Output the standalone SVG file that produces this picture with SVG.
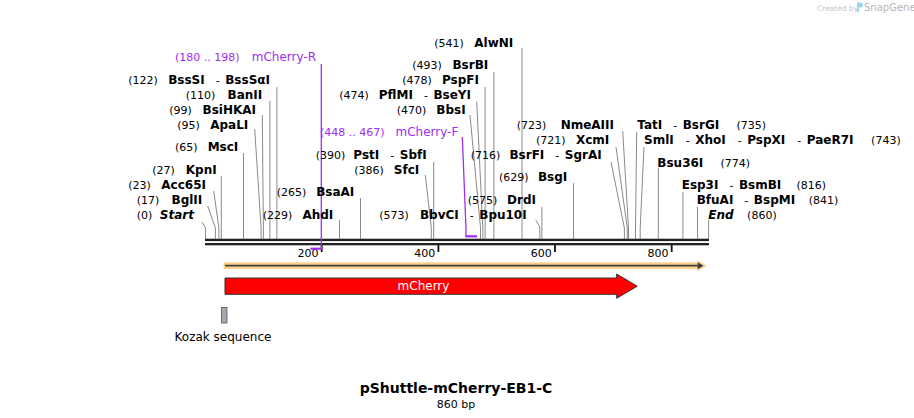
<svg xmlns="http://www.w3.org/2000/svg" width="914" height="418" viewBox="0 0 914 418">
<style>
text{font-family:"DejaVu Sans","Liberation Sans",sans-serif;fill:#000}
.n{font-size:11px}
.b{font-size:12px;font-weight:bold}
.h{font-size:11px;font-weight:normal}
.bi{font-size:12px;font-weight:bold;font-style:italic}
.p{font-size:12px;fill:#a22cf0}
.pn{font-size:11px;fill:#a22cf0}
.cut{fill:none;stroke:#8a8a8a;stroke-width:1}
.pr{fill:none;stroke:#a22cf0;stroke-width:1.3}
.prb{stroke:#a22cf0;stroke-width:2.2}
.tick{stroke:#111;stroke-width:1.8}
</style>
<rect width="914" height="418" fill="#fff"/>

<g id="watermark">
<text x="817" y="10.5" style="font-size:7.5px;fill:#c4c4c4">Created by</text>
<path d="M857,2.5 h3.5 a2.5,2.5 0 0 1 0,5 h-1.5 v4.5 h-2 z" fill="#9ad6f2"/>
<text x="864" y="11" style="font-size:10px;fill:#b5b5b5">SnapGene</text>
</g>

<g id="connectors">
<polyline class="cut" points="202,222 205.5,228 205.5,238.7"/>
<polyline class="cut" points="207.7,206 215.4,228 215.4,238.7"/>
<polyline class="cut" points="213.7,191 218.9,228 218.9,238.7"/>
<polyline class="cut" points="221.3,176 221.3,238.7"/>
<polyline class="cut" points="243.5,153 243.5,238.7"/>
<polyline class="cut" points="254.7,129 261.1,228 261.1,238.7"/>
<polyline class="cut" points="262.3,115 263.4,228 263.4,238.7"/>
<polyline class="cut" points="269.9,101 269.9,238.7"/>
<polyline class="cut" points="276.9,87 276.9,238.7"/>
<polyline class="cut" points="339.5,220 339.5,238.7"/>
<polyline class="cut" points="360.5,198 360.5,238.7"/>
<polyline class="cut" points="433.7,162 433.7,238.7"/>
<polyline class="cut" points="425.3,175 431.3,228 431.3,238.7"/>
<polyline class="cut" points="470,115 480.5,228 480.5,238.7"/>
<polyline class="cut" points="476.7,101.7 482.8,228 482.8,238.7"/>
<polyline class="cut" points="485.1,87 485.1,238.7"/>
<polyline class="cut" points="493.9,72 493.9,238.7"/>
<polyline class="cut" points="522,48 522,238.7"/>
<polyline class="cut" points="535.7,220 539.8,227 539.8,238.7"/>
<polyline class="cut" points="541.9,207 541.9,238.7"/>
<polyline class="cut" points="573.5,183 573.5,238.7"/>
<polyline class="cut" points="611,162 624.4,228 624.4,238.7"/>
<polyline class="cut" points="616,147 627.3,228 627.3,238.7"/>
<polyline class="cut" points="622.7,131 628.5,228 628.5,238.7"/>
<polyline class="cut" points="636.7,132 635.5,228 635.5,238.7"/>
<polyline class="cut" points="644,147 640.2,228 640.2,238.7"/>
<polyline class="cut" points="658.3,168 658.3,238.7"/>
<polyline class="cut" points="682.9,192 682.9,238.7"/>
<polyline class="cut" points="697.5,207 697.5,238.7"/>
<polyline class="cut" points="708.6,220 708.6,238.7"/>
</g>

<g id="backbone">
<rect x="205" y="238.7" width="504" height="2.4" fill="#222"/>
<rect x="205" y="243" width="504" height="2.3" fill="#222"/>
<line class="tick" x1="321.7" y1="245" x2="321.7" y2="252"/>
<line class="tick" x1="438.4" y1="245" x2="438.4" y2="252"/>
<line class="tick" x1="555" y1="245" x2="555" y2="252"/>
<line class="tick" x1="671.7" y1="245" x2="671.7" y2="252"/>
<text class="n" x="318.5" y="256.5" text-anchor="end">200</text>
<text class="n" x="435.2" y="256.5" text-anchor="end">400</text>
<text class="n" x="551.8" y="256.5" text-anchor="end">600</text>
<text class="n" x="668.5" y="256.5" text-anchor="end">800</text>
</g>

<g id="primer-mCherry-R">
<polyline class="pr" points="321.3,64 321.3,249"/>
<line class="prb" x1="310.5" y1="248.7" x2="322" y2="248.7"/>
<text class="pn" x="175" y="61">(180 .. 198)</text>
<text class="p" x="316" y="61" text-anchor="end">mCherry-R</text>
</g>
<g id="primer-mCherry-F">
<polyline class="pr" points="462.3,137 466,228 466,236.3"/>
<line class="prb" x1="465.4" y1="236.3" x2="477" y2="236.3"/>
<text class="pn" x="320" y="136">(448 .. 467)</text>
<text class="p" x="458.3" y="136" text-anchor="end">mCherry-F</text>
</g>

<g id="site-Start"><text class="n" x="136.7" y="218.5">(0)</text><text class="bi" x="194" y="218.5" text-anchor="end">Start</text></g>
<g id="site-BglII"><text class="n" x="136.7" y="203.5">(17)</text><text class="b" x="202.3" y="203.5" text-anchor="end">BglII</text></g>
<g id="site-Acc65I"><text class="n" x="128.3" y="188.5">(23)</text><text class="b" x="206" y="188.5" text-anchor="end">Acc65I</text></g>
<g id="site-KpnI"><text class="n" x="152.3" y="173.5">(27)</text><text class="b" x="216.7" y="173.5" text-anchor="end">KpnI</text></g>
<g id="site-MscI"><text class="n" x="175" y="151">(65)</text><text class="b" x="238.3" y="151" text-anchor="end">MscI</text></g>
<g id="site-ApaLI"><text class="n" x="177.3" y="128.5">(95)</text><text class="b" x="248.3" y="128.5" text-anchor="end">ApaLI</text></g>
<g id="site-BsiHKAI"><text class="n" x="169.3" y="114">(99)</text><text class="b" x="256" y="114" text-anchor="end">BsiHKAI</text></g>
<g id="site-BanII"><text class="n" x="185.7" y="98.7">(110)</text><text class="b" x="262.3" y="98.7" text-anchor="end">BanII</text></g>
<g id="site-BssSI"><text class="n" x="128.3" y="84.3">(122)</text><text class="b" x="270" y="84.3" text-anchor="end"><tspan>BssSI</tspan><tspan class="h" dx="11">-</tspan><tspan dx="5.5">BssSαI</tspan></text></g>

<g id="site-AhdI"><text class="n" x="262.7" y="219.3">(229)</text><text class="b" x="333.3" y="219.3" text-anchor="end">AhdI</text></g>
<g id="site-BsaAI"><text class="n" x="276.7" y="196">(265)</text><text class="b" x="354.3" y="196" text-anchor="end">BsaAI</text></g>
<g id="site-PstI"><text class="n" x="315.7" y="159.3">(390)</text><text class="b" x="426.7" y="159.3" text-anchor="end"><tspan>PstI</tspan><tspan class="h" dx="11">-</tspan><tspan dx="5.5">SbfI</tspan></text></g>
<g id="site-SfcI"><text class="n" x="354.3" y="174.3">(386)</text><text class="b" x="419.3" y="174.3" text-anchor="end">SfcI</text></g>
<g id="site-BbvCI"><text class="n" x="379.3" y="219.3">(573)</text><text class="b" x="526.7" y="219.3" text-anchor="end"><tspan>BbvCI</tspan><tspan class="h" dx="11">-</tspan><tspan dx="5.5">Bpu10I</tspan></text></g>
<g id="site-DrdI"><text class="n" x="467.7" y="204.3">(575)</text><text class="b" x="536" y="204.3" text-anchor="end">DrdI</text></g>
<g id="site-BsgI"><text class="n" x="499" y="181.3">(629)</text><text class="b" x="567.3" y="181.3" text-anchor="end">BsgI</text></g>
<g id="site-BsrFI"><text class="n" x="470.7" y="158.6">(716)</text><text class="b" x="601.7" y="158.6" text-anchor="end"><tspan>BsrFI</tspan><tspan class="h" dx="11">-</tspan><tspan dx="5.5">SgrAI</tspan></text></g>
<g id="site-XcmI"><text class="n" x="536" y="144.3">(721)</text><text class="b" x="609.3" y="144.3" text-anchor="end">XcmI</text></g>
<g id="site-NmeAIII"><text class="n" x="516.7" y="129.3">(723)</text><text class="b" x="614" y="129.3" text-anchor="end">NmeAIII</text></g>
<g id="site-BbsI"><text class="n" x="396.7" y="114.3">(470)</text><text class="b" x="465.7" y="114.3" text-anchor="end">BbsI</text></g>
<g id="site-PflMI"><text class="n" x="339.3" y="99.3">(474)</text><text class="b" x="471" y="99.3" text-anchor="end"><tspan>PflMI</tspan><tspan class="h" dx="11">-</tspan><tspan dx="5.5">BseYI</tspan></text></g>
<g id="site-PspFI"><text class="n" x="402.3" y="84.3">(478)</text><text class="b" x="479" y="84.3" text-anchor="end">PspFI</text></g>
<g id="site-BsrBI"><text class="n" x="412.3" y="69">(493)</text><text class="b" x="488.3" y="69" text-anchor="end">BsrBI</text></g>
<g id="site-AlwNI"><text class="n" x="434.3" y="46.6">(541)</text><text class="b" x="513.3" y="46.6" text-anchor="end">AlwNI</text></g>

<g id="site-TatI"><text class="b" x="637.3" y="129.3"><tspan>TatI</tspan><tspan class="h" dx="11">-</tspan><tspan dx="5.5">BsrGI</tspan></text><text class="n" x="766" y="129.3" text-anchor="end">(735)</text></g>
<g id="site-SmlI"><text class="b" x="644" y="144.3"><tspan>SmlI</tspan><tspan class="h" dx="12">-</tspan><tspan dx="5.5">XhoI</tspan><tspan class="h" dx="12">-</tspan><tspan dx="5.5">PspXI</tspan><tspan class="h" dx="12">-</tspan><tspan dx="5.5">PaeR7I</tspan></text><text class="n" x="900.7" y="144.3" text-anchor="end">(743)</text></g>
<g id="site-Bsu36I"><text class="b" x="657.3" y="167">Bsu36I</text><text class="n" x="750" y="167" text-anchor="end">(774)</text></g>
<g id="site-Esp3I"><text class="b" x="681.7" y="189.3"><tspan>Esp3I</tspan><tspan class="h" dx="11">-</tspan><tspan dx="5.5">BsmBI</tspan></text><text class="n" x="826" y="189.3" text-anchor="end">(816)</text></g>
<g id="site-BfuAI"><text class="b" x="696.7" y="204.3"><tspan>BfuAI</tspan><tspan class="h" dx="11">-</tspan><tspan dx="5.5">BspMI</tspan></text><text class="n" x="838.3" y="204.3" text-anchor="end">(841)</text></g>
<g id="site-End"><text class="bi" x="708.3" y="219.3">End</text><text class="n" x="776.7" y="219.3" text-anchor="end">(860)</text></g>

<g id="feature-orf">
<path d="M224,262.7 H697.7 V260.7 L706,265.7 L697.7,270.7 V268.7 H224 Z" fill="#fcd28c" stroke="#f6c877" stroke-width="0.6"/>
<line x1="225" y1="265.7" x2="699" y2="265.7" stroke="#3d3d3d" stroke-width="1.7"/>
<path d="M697.7,262.2 L703.5,265.7 L697.7,269.2 Z" fill="#3d3d3d"/>
</g>

<g id="feature-mCherry">
<path d="M225,278 H616.7 V274 L637.3,286.2 L616.7,298.3 V294.3 H225 Z" fill="#ff0000" stroke="#333" stroke-width="1"/>
<text x="423.5" y="290.3" text-anchor="middle" style="font-size:12px;fill:#fff">mCherry</text>
</g>

<g id="feature-Kozak">
<rect x="221.5" y="307.5" width="5.5" height="15.5" fill="#a3a8b0" stroke="#555" stroke-width="0.8"/>
<text x="223" y="340.5" text-anchor="middle" style="font-size:12px">Kozak sequence</text>
</g>

<g id="title">
<text x="456" y="393" text-anchor="middle" style="font-size:14px;font-weight:bold">pShuttle-mCherry-EB1-C</text>
<text x="456" y="407.5" text-anchor="middle" style="font-size:11px">860 bp</text>
</g>
</svg>
